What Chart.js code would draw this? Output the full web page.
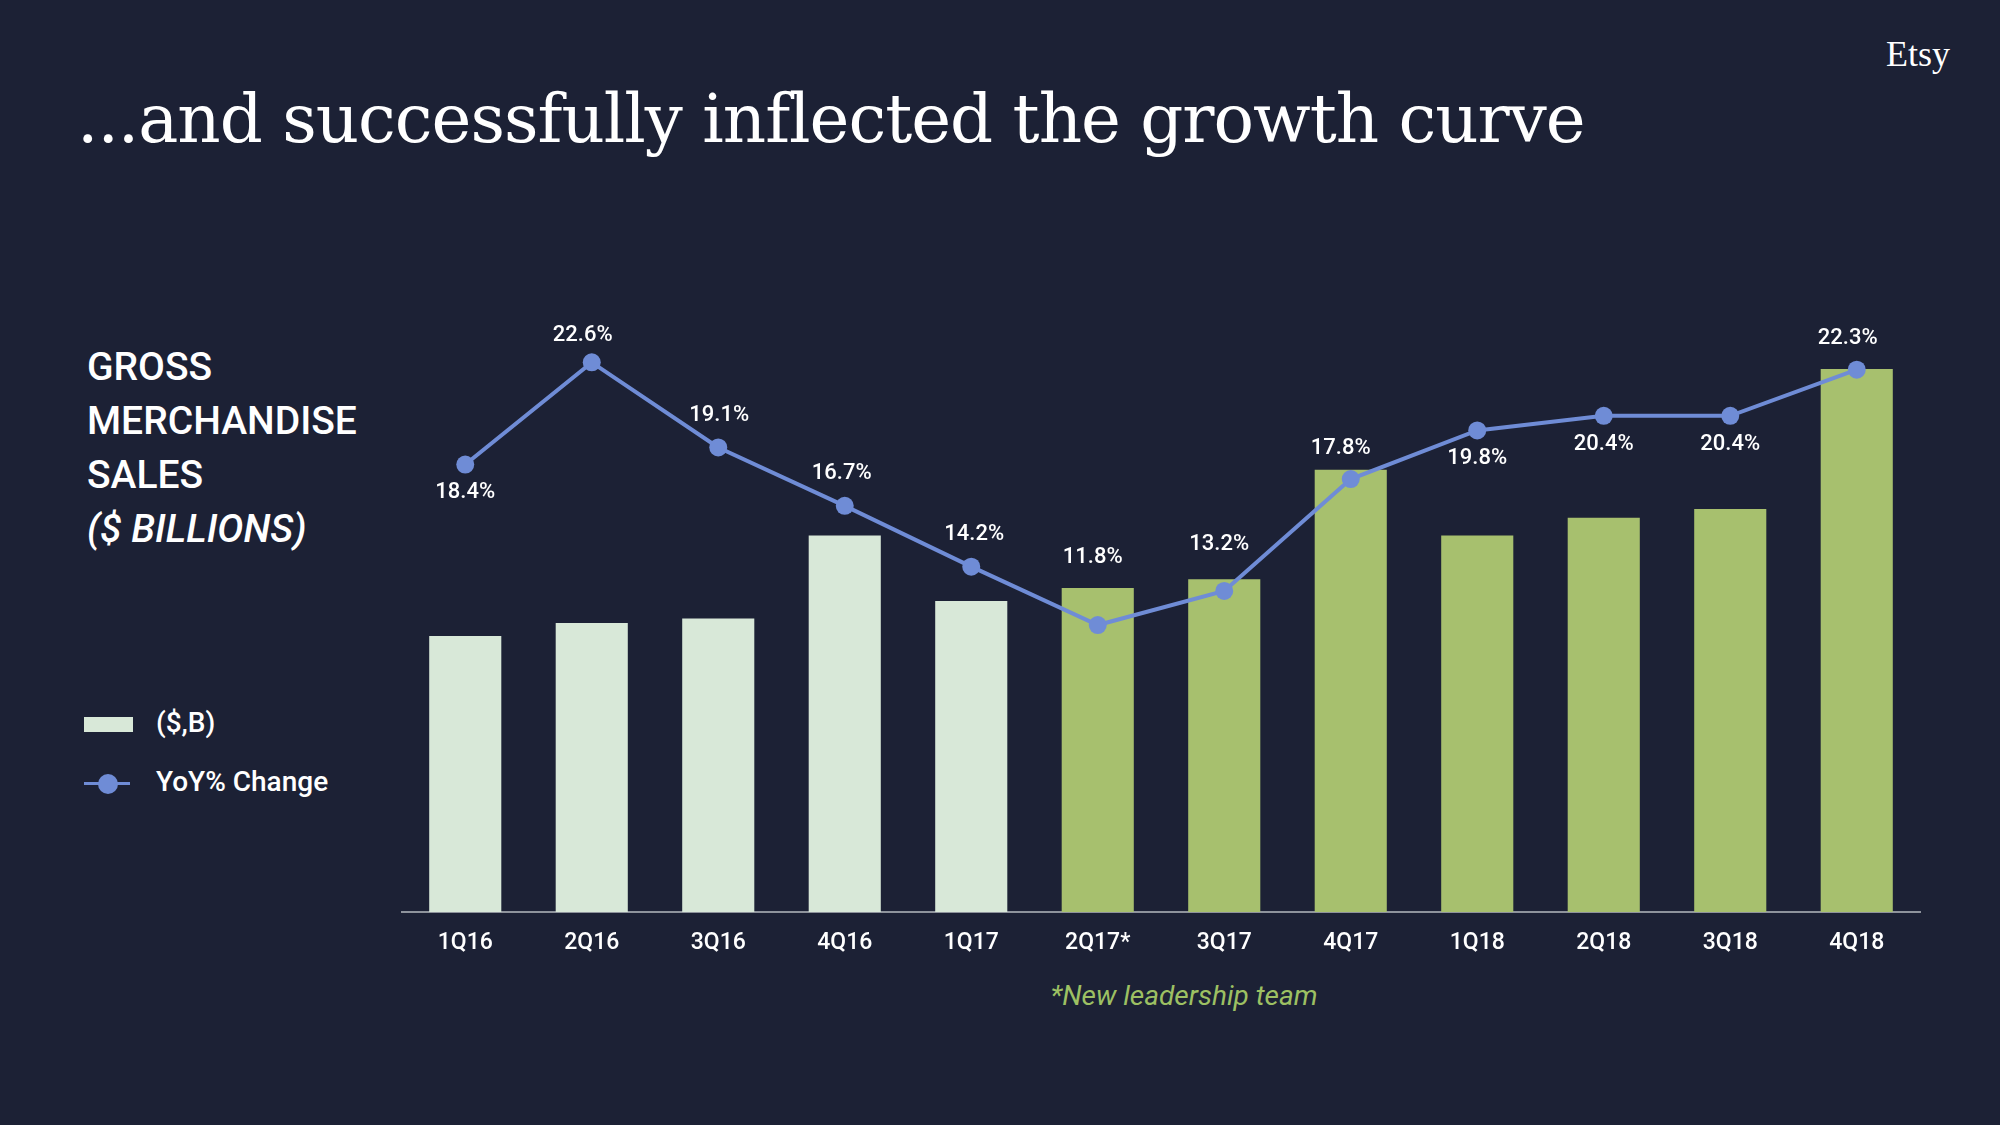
<!DOCTYPE html>
<html>
<head>
<meta charset="utf-8">
<script src="https://cdn.jsdelivr.net/npm/chart.js@4"></script>
<style>
  html, body { margin: 0; padding: 0; background: #1c2135; }
  #stage { position: relative; width: 2000px; height: 1125px; background: #1c2135; overflow: hidden; font-family: Roboto, "Noto Sans", sans-serif; color: #fff; }
  #title { position: absolute; left: 77px; top: 80px; font-family: "DejaVu Serif", serif; font-size: 74px; white-space: nowrap; letter-spacing: -1px; }
  #logo { position: absolute; left: 1886px; top: 33px; font-family: "Liberation Serif", serif; font-size: 36px; }
  #side { position: absolute; left: 87px; top: 340px; font-size: 39px; font-weight: 500; line-height: 54px; }
  #side i { font-style: italic; }
  .leg { position: absolute; left: 84px; font-size: 28px; font-weight: 500; }
  #note { position: absolute; left: 0; width: 2368px; top: 979px; text-align: center; font-size: 28px; font-style: italic; color: #9dc063; }
  canvas { position: absolute; left: 0; top: 0; }
</style>
</head>
<body>
<div id="stage">
  <div id="title">...and successfully inflected the growth curve</div>
  <div id="logo">Etsy</div>
  <div id="side">GROSS<br>MERCHANDISE<br>SALES<br><i>($ BILLIONS)</i></div>
  <div class="leg" style="top:706px;"><span style="display:inline-block;width:49px;height:15px;background:#d8e8d8;vertical-align:middle;margin-right:23px;"></span>($,B)</div>
  <div class="leg" style="top:765px;"><span style="display:inline-block;position:relative;width:49px;height:20px;vertical-align:middle;margin-right:23px;"><span style="position:absolute;left:0;top:8px;width:46px;height:3px;background:#6f8cd6;"></span><span style="position:absolute;left:14px;top:0;width:20px;height:20px;border-radius:50%;background:#6f8cd6;"></span></span>YoY% Change</div>
  <div id="note">*New leadership team</div>
  <canvas id="chart" width="2000" height="1125"></canvas>
</div>
<script>
// quarters on the x axis
const quarters = ["1Q16", "2Q16", "3Q16", "4Q16", "1Q17", "2Q17*", "3Q17", "4Q17", "1Q18", "2Q18", "3Q18", "4Q18"];
// gross merchandise sales, $ billions
const gms = [0.63, 0.66, 0.67, 0.86, 0.71, 0.74, 0.76, 1.01, 0.86, 0.90, 0.92, 1.24];
// year over year change, %
const yoy = [18.4, 22.6, 19.1, 16.7, 14.2, 11.8, 13.2, 17.8, 19.8, 20.4, 20.4, 22.3];
// first quarter under new leadership
const newTeamFrom = 5;

const lightBar = "#d8e8d8";
const greenBar = "#a7c06e";
const lineBlue = "#6f8cd6";

// label nudges [dx, dy] from each point
const labelOffsets = [
  [0, 28], [-9, -27], [1, -32], [-3, -32], [3, -32], [-5, -68],
  [-5, -46], [-10, -31], [0, 28], [0, 29], [0, 29], [-9, -31]
];

// wanted plot box
const area = { left: 402, right: 1920, top: 304, bottom: 912 };

// fit the title to its width in the reference
(function fitTitle() {
  const t = document.getElementById("title");
  const w = t.getBoundingClientRect().width;
  const size = parseFloat(getComputedStyle(t).fontSize);
  t.style.fontSize = (size * 1512 / w) + "px";
})();

const pctLabels = {
  id: "pctLabels",
  afterDatasetsDraw(chart) {
    const ctx = chart.ctx;
    const meta = chart.getDatasetMeta(1);
    ctx.save();
    ctx.font = "500 22px Roboto";
    ctx.fillStyle = "#ffffff";
    ctx.textAlign = "center";
    ctx.textBaseline = "middle";
    meta.data.forEach((pt, i) => {
      const [dx, dy] = labelOffsets[i];
      ctx.fillText(yoy[i].toFixed(1) + "%", pt.x + dx, pt.y + dy);
    });
    ctx.restore();
  }
};

const chart = new Chart(document.getElementById("chart"), {
  data: {
    labels: quarters,
    datasets: [
      {
        type: "bar",
        label: "($,B)",
        data: gms,
        yAxisID: "yGms",
        backgroundColor: gms.map((v, i) => (i < newTeamFrom ? lightBar : greenBar)),
        barPercentage: 1,
        categoryPercentage: 0.57,
        order: 2
      },
      {
        type: "line",
        label: "YoY% Change",
        data: yoy,
        yAxisID: "yPct",
        borderColor: lineBlue,
        backgroundColor: lineBlue,
        borderWidth: 4,
        pointRadius: 9,
        pointBorderWidth: 0,
        tension: 0,
        order: 1
      }
    ]
  },
  options: {
    responsive: false,
    animation: false,
    layout: { padding: { left: 402, right: 80, top: 304, bottom: 160 } },
    plugins: { legend: { display: false }, tooltip: { enabled: false } },
    scales: {
      x: {
        grid: { display: false },
        border: { display: true, color: "#8e939c", width: 2 },
        ticks: { color: "#ffffff", font: { family: "Roboto", size: 23, weight: "500" }, padding: 9 }
      },
      yGms: { display: false, min: 0, max: 25 * 24.33 / 438.1 },
      yPct: { display: false, min: 0, max: 25 }
    }
  },
  plugins: [pctLabels]
});

// nudge padding so the plot box lands where the reference has it
const ca = chart.chartArea;
const pad = chart.options.layout.padding;
chart.options.layout.padding = {
  left: pad.left + (area.left - ca.left),
  right: pad.right + (ca.right - area.right),
  top: pad.top + (area.top - ca.top),
  bottom: pad.bottom + (ca.bottom - area.bottom)
};
chart.update("none");
</script>
</body>
</html>
